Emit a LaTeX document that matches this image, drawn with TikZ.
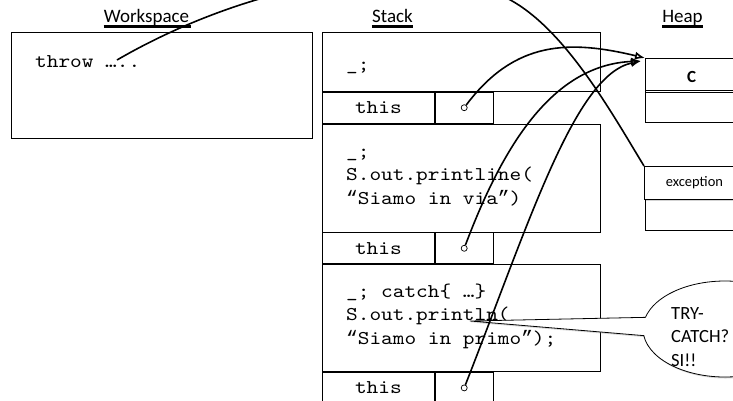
\documentclass[tikz,border=0pt]{standalone}
\usepackage{fontspec}
\setmainfont{Carlito}
\newfontfamily\monofont[FakeStretch=1.14]{lmmono10-regular.otf}
\newfontfamily\quotefont{Liberation Mono}
\usetikzlibrary{arrows.meta,shapes.callouts,shadows,positioning}

\def\oq{{\quotefont “}}
\def\cq{{\quotefont ”}}
\def\thisrow#1#2{%
\node[cell, minimum width=112pt, anchor=north west] (t#1) at (#2.south west) {this};
\node[cell, minimum width=58pt, anchor=north west] (q#1) at (t#1.north east) {};
\node[ptr] (p#1) at (q#1) {};
}

\begin{document}
\begin{tikzpicture}[
x=1pt, y=-1pt,
box/.style={draw, line width=0.8pt, inner sep=0pt},
cell/.style={box, minimum height=31pt, font=\monofont\fontsize{19.5}{23.5}\selectfont},
code/.style={inner sep=0pt, align=left, font=\monofont\fontsize{19.5}{23.5}\selectfont},
title/.style={inner sep=0pt, font=\fontsize{19}{19}\selectfont},
uline/.style={draw=black, line width=3pt},
ptr/.style={circle, draw, fill=white, line width=0.7pt, inner sep=0pt, minimum size=6pt},
ref/.style={line width=1.6pt, -{Latex[open, length=10pt, width=8pt]}},
link/.style={line width=1.6pt},
bubble/.style={ellipse callout, draw, fill=white, line width=0.8pt, callout pointer arc=22,
  drop shadow={shadow xshift=1pt, shadow yshift=-1.5pt, opacity=0.3}},
]
\useasboundingbox (0,0) rectangle (733,400);

% Titles:
\node[title, anchor=base] (lws) at (146.5,22) {Workspace};
\node[title, anchor=base] (lst) at (392.5,22) {Stack};
\node[title, anchor=base] (lhp) at (682.5,22) {Heap};
\draw[uline] (lws.base west) ++(0,4.5) -- ++(87,0);
\draw[uline] (lst.base west) ++(0,4.5) -- ++(41,0);
\draw[uline] (lhp.base west) ++(0,4.5) -- ++(41,0);

% Workspace:
\node[box, anchor=north west, minimum width=301pt, minimum height=106pt] (ws) at (11,32) {};
\node[code, anchor=base west] (throw) at (35,67) {throw …..};
\coordinate (dots) at (117,60);

% Stack:
\node[box, anchor=north west, minimum width=278pt, minimum height=59pt] (f1) at (322,32) {};
\thisrow{1}{f1}
\node[box, anchor=north west, minimum width=278pt, minimum height=108pt] (f2) at (t1.south west) {};
\thisrow{2}{f2}
\node[box, anchor=north west, minimum width=278pt, minimum height=107pt] (f3) at (t2.south west) {};
\thisrow{3}{f3}

\node[code, anchor=base west] (c1) at (346,70) {\_;};
\node[code, anchor=north west] (c2) at (346,140.5) {\strut\_;\\S.out.printline(\\\oq Siamo in via\cq)};
\node[code, anchor=north west] (c3) at (346,280.5) {\strut\_; catch\{ …\}\\S.out.println(\\\oq Siamo in primo\cq);};
\coordinate (tip) at (470,321);

% Heap:
\node[box, anchor=north west, minimum width=100pt, minimum height=64pt] (c) at (645,58) {};
\node[inner sep=0pt, font=\bfseries\fontsize{17}{17}\selectfont] (cname) at (691.5,77) {C};
\draw[line width=0.8pt] (645,90) -- (745,90);
\draw[line width=0.8pt] (645,92.5) -- (745,92.5);
\node[box, anchor=north west, minimum width=100pt, minimum height=64pt] (obj) at (645,166) {};
\node[box, fill=white, anchor=north west, minimum width=100pt, minimum height=33pt,
  font=\fontsize{14.5}{14.5}\selectfont, drop shadow={shadow xshift=1.5pt, shadow yshift=-2pt, opacity=0.35}] (exc) at (644,166) {exception};

% Callout:
\node[bubble, minimum width=164pt, minimum height=96pt, callout absolute pointer={(tip)}] (tc) at (725,329) {};
\node[inner sep=0pt, anchor=west, align=left, font=\fontsize{18.6}{23.5}\selectfont] (tctext) at (671,337) {TRY-\\CATCH?\\SI!!};

% References:
\draw[ref] (p1) .. controls (515,40) and (570,40) .. (c.north west);
\draw[ref] (p2) .. controls (505,140) and (555,65) .. ([shift={(-4pt,-3pt)}]c.north west);
\draw[ref] (p3) .. controls (530,220) and (575,75) .. ([shift={(-4pt,-3pt)}]c.north west);

\draw[link] (dots) .. controls (220,0) and (380,-50) .. (500,-5) .. controls (560,20) and (610,110) .. (exc.north west);
\end{tikzpicture}
\end{document}
